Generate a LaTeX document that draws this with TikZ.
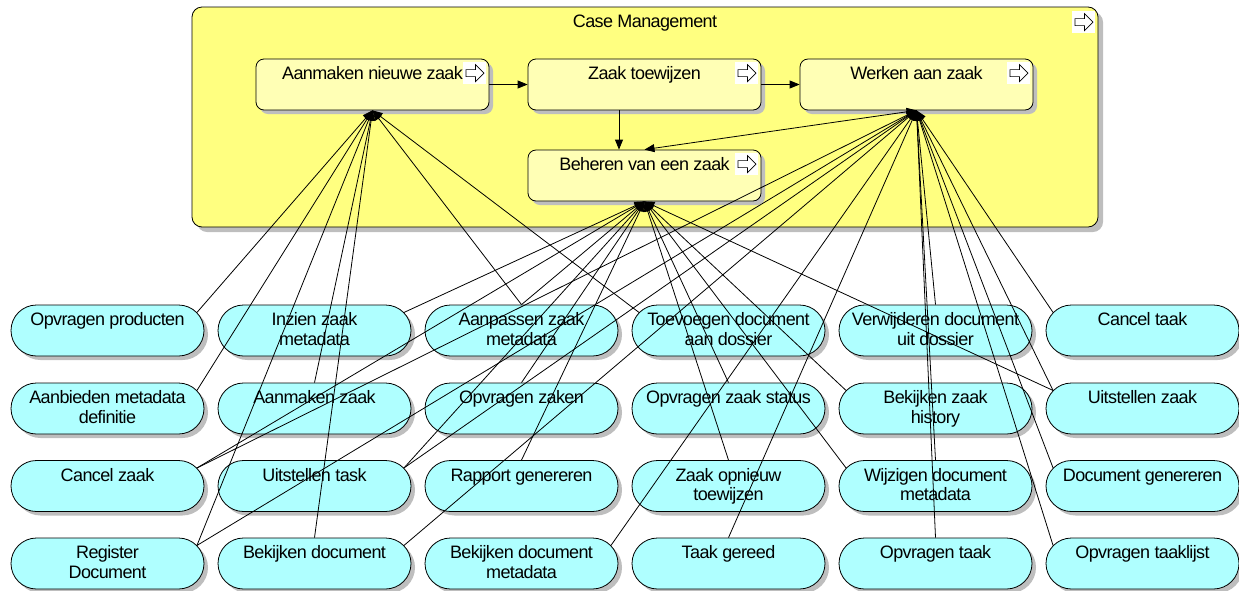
\documentclass[tikz,border=0pt]{standalone}
\usepackage{fontspec}
\setmainfont{Liberation Sans}[LetterSpace=-3.4]
\usetikzlibrary{arrows.meta,calc,shadows,shapes.misc}

\definecolor{groupfill}{RGB}{255,255,128}
\definecolor{procfill}{RGB}{255,255,181}
\definecolor{svcfill}{RGB}{175,255,255}
\definecolor{shadowgray}{RGB}{190,190,190}

% service pill with its (top aligned) caption and two anchors at 45 degrees on the rounded ends
\newcommand\svc[4]{%
  \node[svcbox] (#1) at (#2,#3) {};
  \node[lbl] (#1-t) at ($(#1.north)+(0,7.35)$) {\strut #4};
  \coordinate (#1-ne) at ($(#1.east)+(-7.47,-18.03)$);
  \coordinate (#1-nw) at ($(#1.west)+(7.47,-18.03)$);
}

\begin{document}
\begin{tikzpicture}[x=1pt,y=-1pt,
  lbl/.style={anchor=north, inner sep=0pt, align=center,
    font=\fontsize{18}{19.5}\selectfont},
  boxshadow/.style={drop shadow={shadow xshift=#1, shadow yshift=-#1,
    fill=shadowgray, opacity=1}},
  grp/.style={draw=black, line width=0.8pt, fill=groupfill, rounded corners=10pt,
    inner sep=0pt, minimum width=906pt, minimum height=220pt, boxshadow=5pt},
  proc/.style={draw=black, line width=0.8pt, fill=procfill, rounded corners=8pt,
    inner sep=0pt, minimum width=233pt, minimum height=51pt, boxshadow=4pt},
  svcbox/.style={rounded rectangle, draw=black, line width=0.8pt, fill=svcfill,
    inner sep=0pt, minimum width=193pt, minimum height=51pt, boxshadow=4pt},
  link/.style={line width=0.8pt, -{Triangle[length=10pt,width=8pt]}},
  procicon/.pic={
    \fill[white] (0,0) rectangle (23,22);
    \draw[line width=0.7pt, fill=white, line join=miter]
      (2.5,8) -- (12,8) -- (12,3) -- (20.5,11.5) -- (12,20) -- (12,15) -- (2.5,15) -- cycle;
  }]
\useasboundingbox (0,0) rectangle (1239,590);

% ---- Case Management group ----
\node[grp] (cm) at (645,117) {};
\node[lbl] (cm-t) at ($(cm.north)+(0,7.35)$) {\strut Case Management};
\pic at ($(cm.north east)+(-26,4)$) {procicon};

% ---- processes ----
\node[proc] (pAan) at (372.5,84.5) {};
\node[lbl] (pAan-t) at ($(pAan.north)+(0,7.35)$) {\strut Aanmaken nieuwe zaak};
\node[proc] (pToe) at (644.5,84.5) {};
\node[lbl] (pToe-t) at ($(pToe.north)+(0,7.35)$) {\strut Zaak toewijzen};
\node[proc] (pWer) at (916.5,84.5) {};
\node[lbl] (pWer-t) at ($(pWer.north)+(0,7.35)$) {\strut Werken aan zaak};
\node[proc] (pBeh) at (644.5,175.5) {};
\node[lbl] (pBeh-t) at ($(pBeh.north)+(0,7.35)$) {\strut Beheren van een zaak};
\foreach \p in {pAan,pToe,pWer,pBeh}
  \pic at ($(\p.north east)+(-26,3)$) {procicon};

% ---- application services ----
\svc{s11}{107.5}{330.5}{Opvragen producten}
\svc{s12}{314.5}{330.5}{Inzien zaak\\metadata}
\svc{s13}{521.5}{330.5}{Aanpassen zaak\\metadata}
\svc{s14}{728.5}{330.5}{Toevoegen document\\aan dossier}
\svc{s15}{935.5}{330.5}{Verwijderen document\\uit dossier}
\svc{s16}{1142.5}{330.5}{Cancel taak}

\svc{s21}{107.5}{408.5}{Aanbieden metadata\\definitie}
\svc{s22}{314.5}{408.5}{Aanmaken zaak}
\svc{s23}{521.5}{408.5}{Opvragen zaken}
\svc{s24}{728.5}{408.5}{Opvragen zaak status}
\svc{s25}{935.5}{408.5}{Bekijken zaak\\history}
\svc{s26}{1142.5}{408.5}{Uitstellen zaak}

\svc{s31}{107.5}{486}{Cancel zaak}
\svc{s32}{314.5}{486}{Uitstellen task}
\svc{s33}{521.5}{486}{Rapport genereren}
\svc{s34}{728.5}{486}{Zaak opnieuw\\toewijzen}
\svc{s35}{935.5}{486}{Wijzigen document\\metadata}
\svc{s36}{1142.5}{486}{Document genereren}

\svc{s41}{107.5}{563.5}{Register\\Document}
\svc{s42}{314.5}{563.5}{Bekijken document}
\svc{s43}{521.5}{563.5}{Bekijken document\\metadata}
\svc{s44}{728.5}{563.5}{Taak gereed}
\svc{s45}{935.5}{563.5}{Opvragen taak}
\svc{s46}{1142.5}{563.5}{Opvragen taaklijst}

% ---- process flow ----
\draw[link] (pAan.east) -- (pToe.west);
\draw[link] (pToe.east) -- (pWer.west);
\draw[link] ([xshift=-25.5pt]pToe.south) -- ([xshift=-25.5pt]pBeh.north);
\draw[link, {Triangle[length=10pt,width=8pt]}-{Triangle[length=10pt,width=8pt]}]
  (pWer.south) -- (pBeh.north);

% ---- services serving "Aanmaken nieuwe zaak" ----
\foreach \s in {s11-ne,s21-ne,s41-ne,s22.north,s42.north,s13.north,s14-nw}
  \draw[link] (\s) -- (pAan.south);

% ---- services serving "Werken aan zaak" ----
\foreach \s in {s31-ne,s41-ne,s32-ne,s42-ne,s43-ne,s44.north,s15.north,s35.north,
                s45.north,s16-nw,s26-nw,s36-nw,s46-nw}
  \draw[link] (\s) -- (pWer.south);

% ---- services serving "Beheren van een zaak" ----
\foreach \s in {s12-ne,s31-ne,s13.north,s32-ne,s23.north,s33.north,s24.north,
                s34.north,s25-nw,s35-nw,s26-nw}
  \draw[link] (\s) -- (pBeh.south);
\end{tikzpicture}
\end{document}
